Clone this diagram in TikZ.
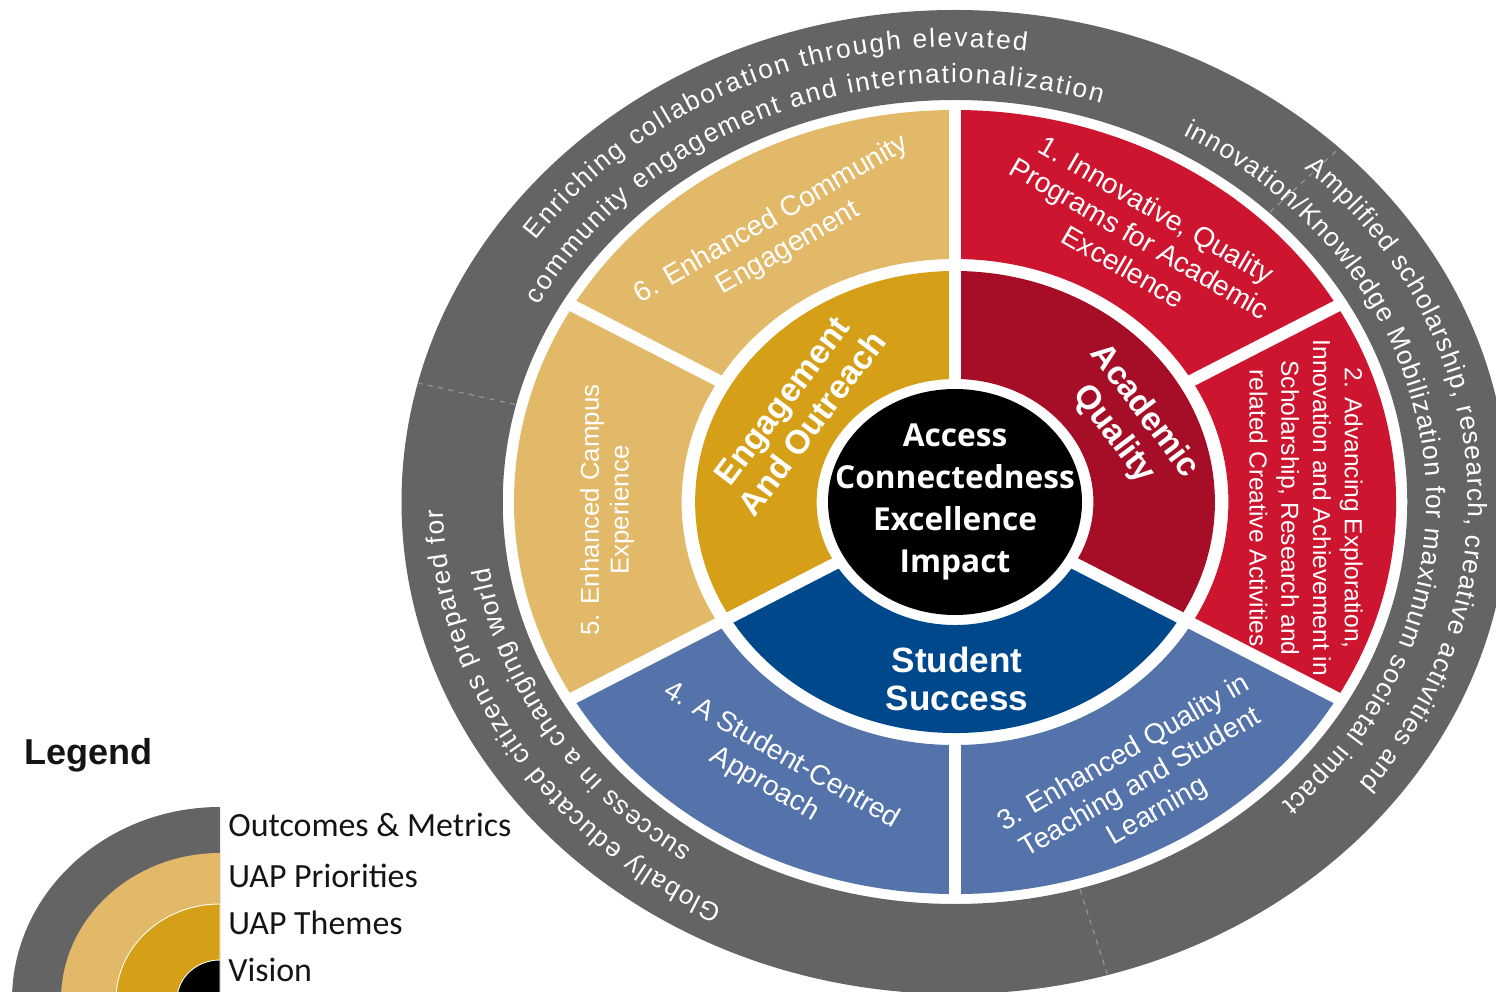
\documentclass[tikz,border=0pt]{standalone}
\usepackage{fontspec}
\setmainfont{Liberation Sans}
\newfontfamily\visionfont{Open Sans}
\newfontfamily\legendfont{Carlito}
\usetikzlibrary{decorations.text}
\definecolor{ringgray}{HTML}{646464}
\definecolor{tanprio}{HTML}{E2B968}
\definecolor{goldtheme}{HTML}{D5A017}
\definecolor{redprio}{HTML}{CD1530}
\definecolor{redtheme}{HTML}{A60D26}
\definecolor{blueprio}{HTML}{5373AA}
\definecolor{bluetheme}{HTML}{00488C}
\definecolor{dashgray}{HTML}{9A9A9A}
\definecolor{legendink}{HTML}{141414}
\newcommand\RingSeg[6]{%
  \fill[#1] ({#6*#5*cos(#2)},{#5*sin(#2)}) arc[start angle=#2,end angle=#3,x radius={#6*#5},y radius=#5]
    -- ({#6*#4*cos(#3)},{#4*sin(#3)}) arc[start angle=#3,end angle=#2,x radius={#6*#4},y radius=#4] -- cycle;}
\newcommand\Spoke[4]{%
  \draw[#1] ({1.125*#3*cos(#2)},{#3*sin(#2)}) -- ({1.125*#4*cos(#2)},{#4*sin(#2)});}
\newcommand\ringtext{\fontsize{15}{17}\selectfont}
\newcommand\ArcText[4]{%
  \path[decorate,decoration={text along path,text color=white,text align={fit to path},text={|\ringtext|#4}}]
    ({1.125*#1*cos(#2)},{#1*sin(#2)}) arc[start angle=#2,end angle=#3,x radius={1.125*#1},y radius=#1];}
\tikzset{
  gap/.style={white,line width=0.24cm},
  segline/.style={dashgray,dashed,line width=0.6pt},
  priotext/.style={text=white,align=center,inner sep=0pt,font=\fontsize{16}{19}\selectfont},
  themetext/.style={text=white,align=center,inner sep=0pt,font=\bfseries\fontsize{19}{21.5}\selectfont},
  legendlabel/.style={anchor=base west,text=legendink,font=\legendfont\fontsize{19.3}{21}\selectfont,inner sep=0pt}
}
\begin{document}
\begin{tikzpicture}[x=0.02cm,y=0.02cm]
\useasboundingbox (0,0) rectangle (1496,991);
\clip (0,0) rectangle (1496,991);
\begin{scope}[shift={(955,489)}]
  % outer ring: outcomes and metrics
  \RingSeg{ringgray}{0}{360}{402}{492}{1.125}
  \Spoke{segline}{46}{403}{491}
  \Spoke{segline}{166}{403}{491}
  \Spoke{segline}{286}{403}{491}
  % priorities
  \RingSeg{redprio}{-30}{90}{243}{392}{1.125}
  \RingSeg{blueprio}{-150}{-30}{243}{392}{1.125}
  \RingSeg{tanprio}{90}{210}{243}{392}{1.125}
  % themes
  \RingSeg{redtheme}{-30}{90}{123}{231}{1.125}
  \RingSeg{bluetheme}{-150}{-30}{123}{231}{1.125}
  \RingSeg{goldtheme}{90}{210}{123}{231}{1.125}
  % white gaps
  \Spoke{gap}{90}{110}{397}
  \Spoke{gap}{210}{110}{397}
  \Spoke{gap}{330}{110}{397}
  \Spoke{gap}{30}{236}{397}
  \Spoke{gap}{150}{236}{397}
  \Spoke{gap}{270}{236}{397}
  % vision
  \fill[black] (0,0) ellipse[x radius=127,y radius=113];
  % curved outcome texts
  \ArcText{455}{145}{82}{Enriching collaboration through elevated}
  \ArcText{419}{152}{72}{community engagement and internationalization}
  \ArcText{456}{47}{-38}{Amplified scholarship, research, creative activities and}
  \ArcText{419}{61}{-46}{innovation/Knowledge Mobilization for maximum societal impact}
  \ArcText{455}{243}{181}{Globally educated citizens prepared for}
  \ArcText{419}{236}{189}{success in a changing world}
\end{scope}
% vision text
\node[text=white,align=center,inner sep=0pt,font=\visionfont\bfseries\fontsize{18}{24}\selectfont] (vision) at (955,489) {Access\\Connectedness\\Excellence\\Impact};
% themes
\node[themetext,rotate=53] (themeEO) at (797,579) {Engagement\\And Outreach};
\node[themetext,rotate=-53] (themeAQ) at (1129,568) {Academic\\Quality};
\node[themetext,font=\bfseries\fontsize{20}{21.5}\selectfont] (themeSS) at (957,312) {Student\\Success};
% priorities
\node[priotext,rotate=30] (p6) at (780,757) {6. Enhanced Community\\Engagement};
\node[priotext,rotate=-30,font=\fontsize{16}{18.7}\selectfont] (p1) at (1140,753) {1. Innovative, Quality\\Programs for Academic\\Excellence};
\node[priotext,rotate=-90,font=\fontsize{14}{18.1}\selectfont] (p2) at (1306,483) {2. Advancing Exploration,\\Innovation and Achievement in\\Scholarship, Research and\\related Creative Activities};
\node[priotext,rotate=30] (p3) at (1141,208) {3. Enhanced Quality in\\Teaching and Student\\Learning};
\node[priotext,rotate=-30] (p4) at (773,221) {4. A Student-Centred\\Approach};
\node[priotext,rotate=90,font=\fontsize{14.7}{17}\selectfont] (p5) at (607,481) {5. Enhanced Campus\\Experience};
% legend
\node[anchor=west,inner sep=0pt,font=\bfseries\fontsize{20.5}{24}\selectfont,text=legendink] (legendtitle) at (24,236) {Legend};
\begin{scope}[shift={(220,-9)}]
  \fill[ringgray] (0,0) -- (0,193) arc[start angle=90,end angle=180,x radius=208,y radius=193] -- cycle;
  \fill[tanprio] (0,0) -- (0,147) arc[start angle=90,end angle=180,x radius=159,y radius=147] -- cycle;
  \filldraw[fill=goldtheme,draw=white,line width=0.5pt] (0,0) -- (0,96) arc[start angle=90,end angle=180,x radius=104,y radius=96] -- cycle;
  \filldraw[fill=black,draw=white,line width=0.5pt] (0,0) -- (0,40) arc[start angle=90,end angle=180,x radius=43,y radius=40] -- cycle;
\end{scope}
\node[legendlabel] (lgOM) at (228,154.5) {Outcomes \& Metrics};
\node[legendlabel] (lgUP) at (228,104) {UAP Priorities};
\node[legendlabel] (lgUT) at (228,56.5) {UAP Themes};
\node[legendlabel] (lgV) at (228,9.2) {Vision};
\end{tikzpicture}
\end{document}
